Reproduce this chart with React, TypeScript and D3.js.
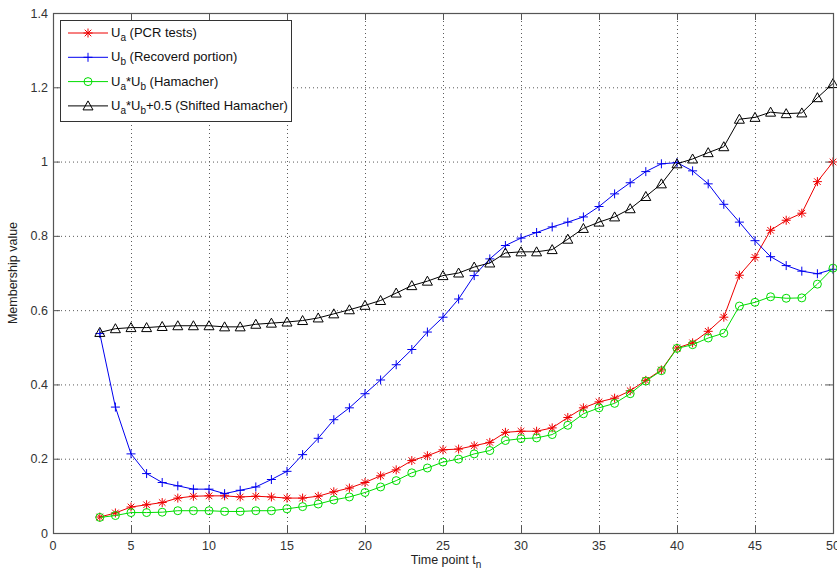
import React from "react";
import * as d3 from "d3";

const timePoints = [3,4,5,6,7,8,9,10,11,12,13,14,15,16,17,18,19,20,21,22,23,24,25,26,27,28,29,30,31,32,33,34,35,36,37,38,39,40,41,42,43,44,45,46,47,48,49,50];

const uaPCR = [0.043,0.054,0.070,0.076,0.082,0.094,0.099,0.100,0.100,0.097,0.099,0.097,0.094,0.094,0.099,0.111,0.121,0.136,0.154,0.170,0.195,0.208,0.224,0.226,0.235,0.244,0.271,0.274,0.274,0.283,0.311,0.337,0.353,0.363,0.383,0.411,0.439,0.498,0.512,0.543,0.581,0.694,0.742,0.815,0.842,0.861,0.946,0.999];

const ubRecovered = [0.537,0.339,0.213,0.160,0.136,0.127,0.118,0.118,0.106,0.115,0.124,0.144,0.166,0.211,0.255,0.305,0.337,0.375,0.412,0.453,0.494,0.541,0.581,0.630,0.693,0.738,0.774,0.794,0.809,0.824,0.837,0.851,0.879,0.913,0.943,0.973,0.994,0.997,0.975,0.940,0.885,0.837,0.787,0.744,0.720,0.705,0.698,0.710];

const hamacher = [0.042,0.047,0.055,0.055,0.056,0.060,0.060,0.060,0.058,0.058,0.060,0.060,0.065,0.071,0.078,0.089,0.097,0.109,0.124,0.141,0.162,0.175,0.191,0.199,0.213,0.222,0.249,0.254,0.256,0.265,0.290,0.321,0.337,0.349,0.375,0.409,0.437,0.497,0.507,0.525,0.538,0.611,0.621,0.636,0.632,0.633,0.670,0.713];

const shiftedHamacher = [0.540,0.550,0.553,0.553,0.556,0.558,0.558,0.558,0.555,0.555,0.562,0.565,0.568,0.572,0.579,0.590,0.601,0.613,0.626,0.646,0.666,0.678,0.693,0.700,0.716,0.727,0.754,0.757,0.757,0.763,0.791,0.820,0.837,0.851,0.873,0.906,0.940,0.994,1.007,1.024,1.040,1.114,1.119,1.133,1.129,1.131,1.172,1.210];

const xTicks = [0,5,10,15,20,25,30,35,40,45,50];
const yTicks = [0,0.2,0.4,0.6,0.8,1,1.2,1.4];

type Marker = "star" | "plus" | "circle" | "triangle";

const seriesList: { values: number[]; color: string; marker: Marker }[] = [
  { values: uaPCR, color: "#ee0000", marker: "star" },
  { values: ubRecovered, color: "#0000f0", marker: "plus" },
  { values: hamacher, color: "#00dd00", marker: "circle" },
  { values: shiftedHamacher, color: "#000000", marker: "triangle" },
];

function MarkerGlyph({ type, x, y, color }: { type: Marker; x: number; y: number; color: string }) {
  const s = 4.5;
  if (type === "star") {
    const d = 3.3;
    return (
      <g stroke={color} strokeWidth={1}>
        <line x1={x - s} y1={y} x2={x + s} y2={y} />
        <line x1={x} y1={y - s} x2={x} y2={y + s} />
        <line x1={x - d} y1={y - d} x2={x + d} y2={y + d} />
        <line x1={x - d} y1={y + d} x2={x + d} y2={y - d} />
      </g>
    );
  }
  if (type === "plus") {
    return (
      <g stroke={color} strokeWidth={1}>
        <line x1={x - s} y1={y} x2={x + s} y2={y} />
        <line x1={x} y1={y - s} x2={x} y2={y + s} />
      </g>
    );
  }
  if (type === "circle") {
    return <circle cx={x} cy={y} r={4} fill="none" stroke={color} strokeWidth={1} />;
  }
  return (
    <path
      d={`M${x},${y - 5} L${x + 5},${y + 4} L${x - 5},${y + 4} Z`}
      fill="none"
      stroke={color}
      strokeWidth={1}
    />
  );
}

export default function App() {
  const W = 837, H = 573;
  const left = 53, right = 833, top = 13, bottom = 533;
  const x = d3.scaleLinear().domain([0, 50]).range([left, right]);
  const y = d3.scaleLinear().domain([0, 1.4]).range([bottom, top]);
  const line = d3
    .line<number>()
    .x((_, i) => x(timePoints[i]))
    .y((v) => y(v));
  const fmt = (v: number) => (Number.isInteger(v) ? String(v) : String(+v.toFixed(1)));
  const tickLen = 7;
  const font = "'Liberation Sans', Arial, sans-serif";
  const axisColor = "#555";
  const textColor = "#333";

  const legendItems: { sub: React.ReactNode; color: string; marker: Marker }[] = [
    {
      color: seriesList[0].color,
      marker: "star",
      sub: (
        <>
          <tspan>U</tspan>
          <tspan fontSize={10} dy={4}>a</tspan>
          <tspan dy={-4}> (PCR tests)</tspan>
        </>
      ),
    },
    {
      color: seriesList[1].color,
      marker: "plus",
      sub: (
        <>
          <tspan>U</tspan>
          <tspan fontSize={10} dy={4}>b</tspan>
          <tspan dy={-4}> (Recoverd portion)</tspan>
        </>
      ),
    },
    {
      color: seriesList[2].color,
      marker: "circle",
      sub: (
        <>
          <tspan>U</tspan>
          <tspan fontSize={10} dy={4}>a</tspan>
          <tspan dy={-4}>*U</tspan>
          <tspan fontSize={10} dy={4}>b</tspan>
          <tspan dy={-4}> (Hamacher)</tspan>
        </>
      ),
    },
    {
      color: seriesList[3].color,
      marker: "triangle",
      sub: (
        <>
          <tspan>U</tspan>
          <tspan fontSize={10} dy={4}>a</tspan>
          <tspan dy={-4}>*U</tspan>
          <tspan fontSize={10} dy={4}>b</tspan>
          <tspan dy={-4}>+0.5 (Shifted Hamacher)</tspan>
        </>
      ),
    },
  ];

  return (
    <svg
      width={W}
      height={H}
      style={{ position: "absolute", left: 0, top: 0, background: "#fff" }}
      fontFamily={font}
    >
      <rect x={0} y={0} width={W} height={H} fill="#fff" />
      {/* grid */}
      <g stroke="#333" strokeWidth={1} strokeDasharray="1,3" opacity={0.8}>
        {xTicks.slice(1, -1).map((t) => (
          <line key={"gx" + t} x1={x(t) + 0.5} x2={x(t) + 0.5} y1={top} y2={bottom} />
        ))}
        {yTicks.slice(1, -1).map((t) => (
          <line key={"gy" + t} x1={left} x2={right} y1={y(t) + 0.5} y2={y(t) + 0.5} />
        ))}
      </g>
      {/* ticks */}
      <g stroke={axisColor} strokeWidth={1}>
        {xTicks.map((t) => (
          <g key={"tx" + t}>
            <line x1={x(t) + 0.5} x2={x(t) + 0.5} y1={bottom} y2={bottom - tickLen} />
            <line x1={x(t) + 0.5} x2={x(t) + 0.5} y1={top} y2={top + tickLen} />
          </g>
        ))}
        {yTicks.map((t) => (
          <g key={"ty" + t}>
            <line x1={left} x2={left + tickLen} y1={y(t) + 0.5} y2={y(t) + 0.5} />
            <line x1={right} x2={right - tickLen} y1={y(t) + 0.5} y2={y(t) + 0.5} />
          </g>
        ))}
      </g>
      {/* series */}
      {seriesList.map((s, si) => (
        <g key={"s" + si}>
          <path d={line(s.values) || ""} fill="none" stroke={s.color} strokeWidth={1} />
          {s.values.map((v, i) => (
            <MarkerGlyph key={i} type={s.marker} x={x(timePoints[i])} y={y(v)} color={s.color} />
          ))}
        </g>
      ))}
      {/* frame */}
      <rect
        x={left + 0.5}
        y={top + 0.5}
        width={right - left}
        height={bottom - top}
        fill="none"
        stroke={axisColor}
        strokeWidth={1.2}
      />
      {/* tick labels */}
      <g fill={textColor} fontSize={12.5}>
        {xTicks.map((t) => (
          <text key={"lx" + t} x={x(t)} y={bottom + 17} textAnchor="middle">
            {fmt(t)}
          </text>
        ))}
        {yTicks.map((t) => (
          <text key={"ly" + t} x={left - 5} y={y(t) + 4.5} textAnchor="end">
            {fmt(t)}
          </text>
        ))}
      </g>
      {/* axis labels */}
      <text x={(left + right) / 2 + 3} y={564} textAnchor="middle" fontSize={12.5} fill="#222">
        <tspan>Time point t</tspan>
        <tspan fontSize={10} dy={4}>n</tspan>
      </text>
      <text
        transform={`translate(17,${(top + bottom) / 2}) rotate(-90)`}
        textAnchor="middle"
        fontSize={12.5}
        fill="#222"
      >
        Membership value
      </text>
      {/* legend */}
      <g>
        <rect x={60.5} y={20.5} width={231} height={101} fill="#fff" stroke="#333" strokeWidth={1} />
        {legendItems.map((it, i) => {
          const ly = 33 + i * 24.3;
          return (
            <g key={"lg" + i}>
              <line x1={68} x2={108} y1={ly} y2={ly} stroke={it.color} strokeWidth={1} />
              <MarkerGlyph type={it.marker} x={88} y={ly} color={it.color} />
              <text x={111} y={ly + 4} fontSize={13} fill="#111">
                {it.sub}
              </text>
            </g>
          );
        })}
      </g>
    </svg>
  );
}
